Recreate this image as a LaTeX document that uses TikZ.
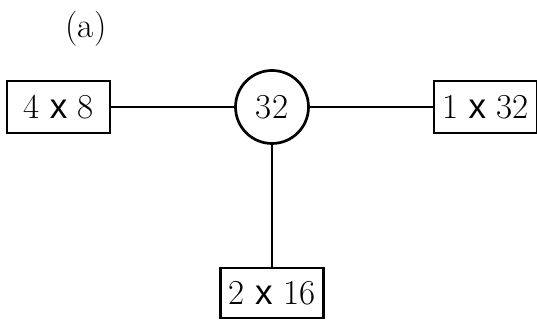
\documentclass[tikz,border=0pt]{standalone}
\usepackage{fontspec}
\newfontfamily\timesx{Liberation Sans}
\usepackage{tikz}
\newcommand{\by}{{\timesx x}}

\begin{document}
\begin{tikzpicture}[x=1pt, y=1pt,
        factorbox/.style={draw, line width=2.7pt, rectangle, inner sep=0pt, minimum width=103pt, minimum height=52pt, font=\rmfamily\fontsize{35}{40}\selectfont},
        numcircle/.style={draw, line width=2.7pt, circle, inner sep=0pt, minimum size=73pt, font=\rmfamily\fontsize{35}{40}\selectfont},
        wire/.style={line width=2.7pt}]
        	\useasboundingbox (0, 0) rectangle (537, 320);
        	% Label:
        	\node[font=\rmfamily\fontsize{35}{40}\selectfont] (lbl) at (86, 291){(a)};
        	% Number and its factor pairs:
        	\node[numcircle] (num) at (272, 213){32};
        	\node[factorbox] (left) at (58.5, 213){4 \by{} 8};
        	\node[factorbox] (right) at (485.5, 213){1 \by{} 32};
        	\node[factorbox, minimum height=50pt] (bottom) at (272, 27){2 \by{} 16};
        	% Connectors:
        	\draw[wire] (left.east) -- (num.west);
        	\draw[wire] (num.east) -- (right.west);
        	\draw[wire] (num.south) -- (bottom.north);
        \end{tikzpicture}
\end{document}
